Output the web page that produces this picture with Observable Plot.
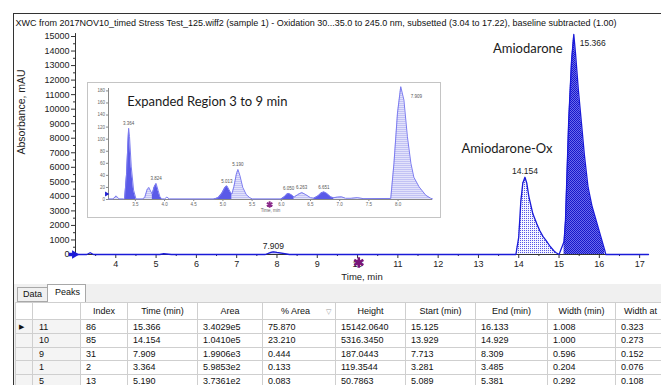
<!DOCTYPE html>
<html><head><meta charset="utf-8">
<script src="https://cdn.jsdelivr.net/npm/d3@7"></script>
<script src="https://cdn.jsdelivr.net/npm/@observablehq/plot@0.6"></script>
<style>
body{margin:0;background:#fff;}
#wrap{position:relative;width:661px;height:385px;overflow:hidden;font-family:"Liberation Sans",Arial,sans-serif;background:#fff;}
#main{position:absolute;left:0;top:0;}
#frame{position:absolute;left:13px;top:13px;width:700px;height:400px;border-left:1px solid #333;border-top:1px solid #333;pointer-events:none;}
#inset{position:absolute;left:88px;top:83px;width:352px;height:134px;background:#fff;outline:1px solid #c4c4c4;}
#bottom{position:absolute;left:14px;top:284px;width:660px;height:110px;background:#f0f0f0;}
.tab{position:absolute;font-size:9px;color:#111;box-sizing:border-box;border:1px solid #a8a8a8;padding-left:5px;}
#tData{left:3px;top:3px;width:31px;height:15px;line-height:13px;background:#f0f0f0;border-right:none;}
#tPeaks{left:33px;top:0px;width:39px;height:19px;line-height:14px;background:#fff;border-bottom:none;padding-left:7px;}
#tbl{position:absolute;left:1px;top:18px;border-collapse:collapse;table-layout:fixed;font-size:9px;color:#111;background:#fff;}
#tbl td,#tbl th{border:1px solid #cfcfcf;height:12.6px;padding:0 0 0 5px;white-space:nowrap;overflow:hidden;font-weight:normal;line-height:12px;}
#tbl th{height:16px;text-align:center;padding:0;}
#tbl td.rh{background:#f4f4f4;}
#tbl th.rh{background:#fff;}
</style></head><body>
<div id="wrap">
  <div id="main"></div>
  <div id="inset"></div>
  <div id="bottom"><div class="tab" id="tData">Data</div><div class="tab" id="tPeaks">Peaks</div><table id="tbl"></table></div>
  <div id="frame"></div>
</div>
<script>
// ---------- Main chromatogram (time in min, absorbance in mAU) ----------
const mainTime = [3.00, 3.28, 3.364, 3.45, 5.09, 5.19, 5.38, 7.713, 7.85, 7.909, 8.00, 8.309,
  13.929, 14.00, 14.05, 14.10, 14.154, 14.20, 14.25, 14.35, 14.45, 14.52, 14.60, 14.68, 14.78, 14.89, 14.929, 15.00,
  15.125, 15.16, 15.24, 15.31, 15.366, 15.41, 15.48, 15.55, 15.63, 15.72, 15.82, 15.92, 16.04, 16.133, 16.16, 17.22];
const mainAbs = [0, 0, 119, 0, 0, 51, 0, 0, 150, 187, 140, 0,
  0, 1200, 3600, 4900, 5316, 4900, 4000, 2800, 2100, 1650, 1250, 960, 550, 200, 120, 0,
  900, 2340, 9220, 13300, 15142, 13800, 11300, 9220, 6800, 4630, 3300, 2340, 1200, 300, 0, 0];

// ---------- Peak table ----------
const tableHeaders = ["Index", "Time (min)", "Area", "% Area", "Height", "Start (min)", "End (min)", "Width (min)", "Width at"];
const peakRow = ["11", "10", "9", "1", "5"];
const peakIndex = ["86", "85", "31", "2", "13"];
const peakTime = ["15.366", "14.154", "7.909", "3.364", "5.190"];
const peakArea = ["3.4029e5", "1.0410e5", "1.9906e3", "5.9853e2", "3.7361e2"];
const peakPct = ["75.870", "23.210", "0.444", "0.133", "0.083"];
const peakHeight = ["15142.0640", "5316.3450", "187.0443", "119.3544", "50.7863"];
const peakStart = ["15.125", "13.929", "7.713", "3.281", "5.089"];
const peakEnd = ["16.133", "14.929", "8.309", "3.485", "5.381"];
const peakWidth = ["1.008", "1.000", "0.596", "0.204", "0.292"];
const peakWidthHalf = ["0.323", "0.273", "0.152", "0.076", "0.108"];
const compoundNames = ["Amiodarone", "Amiodarone-Ox"];

// ---------- Axis ticks ----------
const xTicks = [4, 5, 6, 7, 8, 9, 10, 11, 12, 13, 14, 15, 16, 17];
const xMinor = [3.5, 4.5, 5.5, 6.5, 7.5, 8.5, 9.5, 10.5, 11.5, 12.5, 13.5, 14.5, 15.5, 16.5];
const yTicks = [0, 1000, 2000, 3000, 4000, 5000, 6000, 7000, 8000, 9000, 10000, 11000, 12000, 13000, 14000, 15000];
const yMinor = [500, 1500, 2500, 3500, 4500, 5500, 6500, 7500, 8500, 9500, 10500, 11500, 12500, 13500, 14500];
const titleText = "XWC from 2017NOV10_timed Stress Test_125.wiff2 (sample 1) - Oxidation 30...35.0 to 245.0 nm, subsetted (3.04 to 17.22), baseline subtracted (1.00)";

// ---------- Inset: expanded region ----------
const insetTime = [3.04, 3.12, 3.17, 3.22, 3.30, 3.317, 3.35, 3.375, 3.385, 3.40, 3.43, 3.47, 3.51, 3.62, 3.66, 3.70, 3.73, 3.76, 3.79, 3.82, 3.855, 3.89, 3.92, 3.95, 4.00, 4.04, 4.08, 4.85, 4.92, 4.98, 5.03, 5.068, 5.10, 5.14, 5.154, 5.19, 5.23, 5.257, 5.29, 5.34, 5.40, 5.46, 5.50, 6.00, 6.06, 6.10, 6.125, 6.17, 6.22, 6.28, 6.35, 6.42, 6.50, 6.56, 6.63, 6.69, 6.73, 6.78, 6.85, 6.90, 6.96, 7.03, 7.10, 7.20, 7.30, 7.40, 7.875, 7.93, 7.99, 8.046, 8.10, 8.16, 8.22, 8.27, 8.36, 8.475, 8.56, 8.59];
const insetAbs = [1, 1, 6, 1, 1, 2, 43, 98, 118, 104, 54, 15.5, 1, 1, 3, 16, 20, 14, 9, 20, 26.5, 15, 5, 1, 1, 4, 1, 1, 3, 10, 19, 22.6, 17, 10, 9, 22, 42, 49.7, 40, 20, 8, 3, 1, 1, 5, 9, 10, 8, 4, 8, 11.6, 8, 3, 2, 6, 11, 12.6, 10, 4, 3, 4, 4.5, 2, 2, 3, 1.5, 1.7, 60, 143, 187, 165, 104, 60, 37, 21, 7, 2, 1];
const insetDarkStart = [3.317, 3.79, 4.85, 6.00, 6.56];
const insetDarkEnd = [3.51, 3.95, 5.154, 6.22, 6.90];
const insetLightStart = [3.12, 3.62, 5.154, 6.22, 6.90, 7.20, 7.875];
const insetLightEnd = [3.22, 3.79, 5.50, 6.56, 7.10, 7.40, 8.56];
const insetLabel = ["3.364", "3.824", "5.013", "5.190", "6.050", "6.263", "6.651"];
const insetLabelTime = [3.385, 3.855, 5.068, 5.257, 6.125, 6.35, 6.73];
const insetLabelAbs = [118, 26.5, 22.6, 49.7, 10, 11.6, 12.6];
const insetBigLabel = ["7.909"];
const insetBigTime = [8.046];
const insetBigAbs = [187];
const insetXTicks = [3.5, 4.0, 4.5, 5.0, 5.5, 6.0, 6.5, 7.0, 7.5, 8.0];
const insetYTicks = [0, 20, 40, 60, 80, 100, 120, 140, 160, 180];
const insetTitle = "Expanded Region 3 to 9 min";

// ---------- Build tables ----------
const mainData = mainTime.map((t, i) => ({t, v: mainAbs[i]}));
const peaks = peakTime.map((p, i) => ({
  label: p, t: +p, h: +peakHeight[i], start: +peakStart[i], end: +peakEnd[i]
}));
const insetData = insetTime.map((t, i) => ({t, v: insetAbs[i]}));

const blue = "#1a1ad8";
const font = "Liberation Sans, Arial, sans-serif";

// ---------- Main plot ----------
const amio = peaks[0], ox = peaks[1], small = peaks[2];
const main = Plot.plot({
  width: 661, height: 284,
  marginLeft: 75, marginRight: 13, marginTop: 36, marginBottom: 30,
  x: {domain: [3.0, 17.22]},
  y: {domain: [0, 15000]},
  style: {fontFamily: font, fontSize: "9px", color: "#222", background: "transparent", overflow: "visible"},
  marks: [
    Plot.areaY(mainData, {filter: d => d.t >= ox.start && d.t <= ox.end, x: "t", y: "v", fill: "url(#pOx)"}),
    Plot.areaY(mainData, {filter: d => d.t >= amio.start && d.t <= amio.end, x: "t", y: "v", fill: "url(#pAm)"}),
    Plot.areaY(mainData, {filter: d => d.t >= small.start && d.t <= small.end, x: "t", y: "v", fill: "#c8c8f6"}),
    Plot.axisY(yMinor, {tickSize: 2, tickFormat: () => "", label: null, stroke: "#333"}),
    Plot.axisY(yTicks, {tickSize: 4, tickPadding: 2, tickFormat: d => String(d), label: null, stroke: "#333", fontSize: 9}),
    Plot.axisX(xMinor, {tickSize: 2, tickFormat: () => "", label: null, stroke: "#333"}),
    Plot.axisX(xTicks, {tickSize: 4, tickPadding: 2, tickFormat: d => String(d), label: null, stroke: "#333", fontSize: 9}),
    Plot.ruleX([3.0], {y1: 0, y2: 15200, stroke: "#333"}),
    Plot.ruleY([0], {stroke: "#333"}),
    Plot.line(mainData, {x: "t", y: "v", stroke: blue, strokeWidth: 1.3}),
    // peak labels
    Plot.text(peaks.slice(1, 3), {x: "t", y: "h", text: "label", dy: -6, fontSize: 8.5, fill: "#222"}),
    Plot.text([amio], {x: "t", y: "h", text: "label", dx: 6, dy: 9, textAnchor: "start", fontSize: 8.5, fill: "#222"}),
    Plot.text([amio], {x: "t", y: "h", text: () => compoundNames[0], dx: -46, dy: 14, fontSize: 13, fontFamily: "Lato, Open Sans, sans-serif", fill: "#1a1a1a"}),
    Plot.text([ox], {x: "t", y: "h", text: () => compoundNames[1], dx: -18, dy: -28, fontSize: 13, fontFamily: "Lato, Open Sans, sans-serif", fill: "#1a1a1a"}),
    // markers
    Plot.dot([mainData[0]], {x: "t", y: "v", symbol: "square2", r: 2.2, fill: blue, dx: -5}),
    Plot.dot([mainData[0]], {x: "t", y: "v", symbol: "triangle2", rotate: 90, r: 4, fill: blue, dx: -1}),
    Plot.dot([{t: 10.03, v: 0}], {x: "t", y: "v", symbol: "asterisk", r: 5, stroke: "#7a157a", strokeWidth: 2.6, dy: 8}),
    // texts
    Plot.text([titleText], {text: d => d, frameAnchor: "top-left", dx: -60, dy: -17, textAnchor: "start", fontSize: 9, fill: "#111", ariaLabel: "charttitle"}),
    Plot.text(["Absorbance, mAU"], {text: d => d, frameAnchor: "left", rotate: -90, dx: -54, dy: 9, fontSize: 10.5, fill: "#222"}),
    Plot.text(["Time, min"], {text: d => d, frameAnchor: "bottom", dy: 25, fontSize: 9.5, fill: "#222"})
  ]
});
const defsM = d3.select(main).insert("defs", ":first-child");
const pOx = defsM.append("pattern").attr("id", "pOx").attr("width", 2).attr("height", 2).attr("patternUnits", "userSpaceOnUse");
pOx.append("rect").attr("width", 2).attr("height", 2).attr("fill", "#f4f4ff");
pOx.append("rect").attr("width", 1).attr("height", 1).attr("fill", "#5555e6");
const pAm = defsM.append("pattern").attr("id", "pAm").attr("width", 2).attr("height", 2).attr("patternUnits", "userSpaceOnUse");
pAm.append("rect").attr("width", 2).attr("height", 2).attr("fill", "#6a6aee");
pAm.append("rect").attr("width", 1).attr("height", 1).attr("fill", "#1818c8");
pAm.append("rect").attr("x", 1).attr("y", 1).attr("width", 1).attr("height", 1).attr("fill", "#1818c8");
const tnode = main.querySelector('[aria-label="charttitle"] text');
if (tnode) { tnode.setAttribute("textLength", 617); tnode.setAttribute("lengthAdjust", "spacingAndGlyphs"); }
document.getElementById("main").append(main);

// ---------- Inset plot ----------
const darkRanges = insetDarkStart.map((s, i) => [s, insetDarkEnd[i]]);
const lightRanges = insetLightStart.map((s, i) => [s, insetLightEnd[i]]);
const insetLabels = insetLabel.map((l, i) => ({label: l, t: insetLabelTime[i], v: insetLabelAbs[i]}));
const insetBig = insetBigLabel.map((l, i) => ({label: l, t: insetBigTime[i], v: insetBigAbs[i]}));
const lineCol = "#7b7bf0";
const inset = Plot.plot({
  width: 352, height: 134,
  marginLeft: 20, marginRight: 8, marginTop: 5, marginBottom: 18,
  x: {domain: [3.04, 8.59]},
  y: {domain: [0, 184]},
  style: {fontFamily: font, fontSize: "4.5px", color: "#666", background: "transparent", overflow: "visible"},
  marks: [
    ...lightRanges.map(([a, b]) => Plot.areaY(insetData, {filter: d => d.t >= a && d.t <= b, x: "t", y: "v", fill: "url(#pLt)"})),
    ...darkRanges.map(([a, b]) => Plot.areaY(insetData, {filter: d => d.t >= a && d.t <= b, x: "t", y: "v", fill: "#5a5ae8"})),
    Plot.axisY(insetYTicks, {tickSize: 2, tickPadding: 1.5, label: null, stroke: "#888", fill: "#666", fontSize: 4.5}),
    Plot.axisX(insetXTicks, {tickSize: 2, tickPadding: 1.5, label: null, tickFormat: d3.format(".1f"), stroke: "#888", fill: "#666", fontSize: 4.5}),
    Plot.ruleX([3.04], {stroke: "#888"}),
    Plot.ruleY([0], {stroke: "#888"}),
    Plot.line(insetData, {x: "t", y: "v", stroke: lineCol, strokeWidth: 1}),
    Plot.text(insetLabels, {x: "t", y: "v", text: "label", dy: -4.5, fontSize: 4.5, fill: "#555"}),
    Plot.text(insetBig, {x: "t", y: "v", text: "label", dx: 10, dy: 10, textAnchor: "start", fontSize: 4.5, fill: "#555"}),
    Plot.dot([insetData[0]], {x: "t", y: "v", symbol: "triangle2", rotate: 90, r: 2.4, fill: "#2020d0", dx: -2, dy: -5}),
    Plot.dot([{t: 5.8, v: 0}], {x: "t", y: "v", symbol: "asterisk", r: 3, stroke: "#8a2a8a", strokeWidth: 1.8, dy: 5}),
    Plot.text(["Time, min"], {text: d => d, frameAnchor: "bottom", dy: 12, fontSize: 4.5, fill: "#666"}),
    Plot.text([insetTitle], {text: d => d, frameAnchor: "top-left", dx: 18.7, dy: 8, textAnchor: "start", fontSize: 13, fontFamily: "Lato, Open Sans, sans-serif", fill: "#1a1a1a"})
  ]
});
const defsI = d3.select(inset).insert("defs", ":first-child");
const pLt = defsI.append("pattern").attr("id", "pLt").attr("width", 2).attr("height", 2).attr("patternUnits", "userSpaceOnUse");
pLt.append("rect").attr("width", 2).attr("height", 2).attr("fill", "#e2e2fb");
pLt.append("rect").attr("width", 2).attr("height", 1).attr("fill", "#c2c2f4");
document.getElementById("inset").append(inset);

// ---------- Peak table ----------
const colW = [17, 48, 47, 70, 65, 73, 70, 70, 72, 68, 50];
const tbl = d3.select("#tbl");
const cg = tbl.append("colgroup");
colW.forEach(w => cg.append("col").style("width", w + "px"));
const hr = tbl.append("tr");
hr.append("th").attr("class", "rh");
hr.append("th").attr("class", "rh");
tableHeaders.forEach((h, i) => {
  const th = hr.append("th");
  if (i === 3) { th.html(h + '<span style="color:#999;font-size:7px;margin-left:16px">&#9661;</span>').style("padding-left", "14px"); }
  else if (i === tableHeaders.length - 1) { th.text(h).style("text-align", "left").style("padding-left", "8px"); }
  else th.text(h);
});
const cols = [peakIndex, peakTime, peakArea, peakPct, peakHeight, peakStart, peakEnd, peakWidth, peakWidthHalf];
peakRow.forEach((r, i) => {
  const tr = tbl.append("tr");
  tr.append("td").attr("class", "rh").style("padding-left", "3px").html(i === 0 ? '<span style="font-size:7px">&#9654;</span>' : "");
  tr.append("td").attr("class", "rh").style("padding-left", "6px").text(r);
  cols.forEach(c => tr.append("td").text(c[i]));
});
</script>
</body></html>
